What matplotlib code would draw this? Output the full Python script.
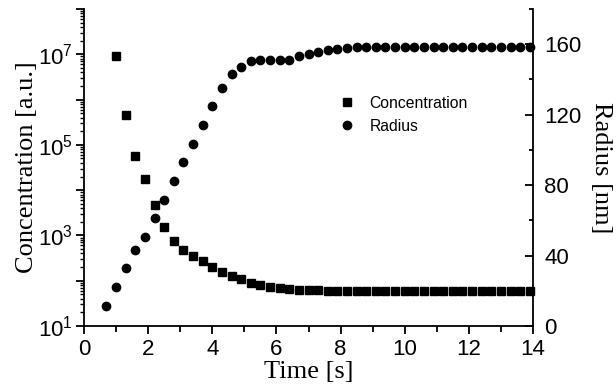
import math
import matplotlib
matplotlib.use("Agg")
import matplotlib.pyplot as plt
from matplotlib.ticker import LogLocator, MultipleLocator, NullFormatter

plt.rcParams['font.family'] = ['Liberation Sans', 'DejaVu Sans']
plt.rcParams['mathtext.fontset'] = 'custom'
plt.rcParams['mathtext.rm'] = 'Liberation Sans'
plt.rcParams['mathtext.default'] = 'regular'

# time points
t_radius = [0.7, 1.0, 1.3, 1.6, 1.9, 2.2, 2.5, 2.8, 3.1, 3.4, 3.7, 4.0, 4.3, 4.6, 4.9,
            5.2, 5.5, 5.8, 6.1, 6.4, 6.7, 7.0, 7.3, 7.6, 7.9, 8.2, 8.5, 8.8, 9.1, 9.4,
            9.7, 10.0, 10.3, 10.6, 10.9, 11.2, 11.5, 11.8, 12.1, 12.4, 12.7, 13.0, 13.3,
            13.6, 13.9]
t_conc = t_radius[1:]

radius = [11.5, 22.1, 32.7, 43.3, 50.5, 61.1, 71.7, 82.3, 92.9, 103.5, 114.2, 124.8,
          135.4, 143.0, 147.1, 150.2, 151.3, 151.3, 151.3, 151.3, 153.6, 154.7, 155.6,
          156.6, 157.5, 157.9, 158.2, 158.2, 158.2, 158.2, 158.2, 158.2, 158.2, 158.2,
          158.2, 158.2, 158.2, 158.2, 158.2, 158.2, 158.2, 158.2, 158.2, 158.2, 158.2]

conc = [9.0e6, 4.6e5, 5.7e4, 1.8e4, 4.6e3, 1.5e3, 740, 480, 350, 270, 205, 152, 127,
        107, 91, 80, 74, 69, 66, 62, 61, 61, 60, 60, 60, 60, 60, 59, 59, 58, 59, 59,
        59, 59, 59, 59, 59, 59, 59, 59, 59, 59, 59, 59]

fig = plt.figure(figsize=(6.16, 3.90), dpi=100)
ax = fig.add_axes([0.1364, 0.1641, 0.7289, 0.8128])
ax2 = ax.twinx()

l1, = ax.plot(t_conc, conc, 's', color='black', markersize=5.2, linestyle='none',
              label='Concentration', clip_on=False)
l2, = ax2.plot(t_radius, radius, 'o', color='black', markersize=6, linestyle='none',
               label='Radius', clip_on=False)

ax.set_yscale('log')
ax.set_xlim(0, 14)
ax.set_ylim(10, 1e8)
ax2.set_ylim(0, 180)

for a in (ax, ax2):
    a.spines['top'].set_visible(False)
    for s in a.spines.values():
        s.set_linewidth(1.3)
ax.spines['right'].set_visible(False)
ax2.spines['left'].set_visible(False)
ax2.spines['bottom'].set_visible(False)

ax.xaxis.set_major_locator(MultipleLocator(2))
ax.xaxis.set_minor_locator(MultipleLocator(1))
ax.yaxis.set_major_locator(LogLocator(base=10, numticks=20))
ax.yaxis.set_minor_locator(LogLocator(base=10, subs=range(2, 10), numticks=20))
ax.yaxis.set_minor_formatter(NullFormatter())


def fmt(v, pos):
    e = int(round(math.log10(v)))
    return r'$10^{%d}$' % e if e % 2 == 1 else ''


ax.yaxis.set_major_formatter(fmt)

ax2.yaxis.set_major_locator(MultipleLocator(40))
ax2.yaxis.set_minor_locator(MultipleLocator(20))

ax.tick_params(axis='x', which='major', direction='out', length=6, width=1.3,
               labelsize=16, pad=3)
ax.tick_params(axis='x', which='minor', direction='out', length=4, width=1.3)
ax.tick_params(axis='y', which='major', direction='out', length=6, width=1.3,
               labelsize=16, pad=2)
ax.tick_params(axis='y', which='minor', direction='out', length=3, width=1)
ax2.tick_params(axis='y', which='major', direction='in', length=6, width=1.3,
                labelsize=16, pad=8)
ax2.tick_params(axis='y', which='minor', direction='in', length=3, width=1.3)

ax.set_xlabel('Time [s]', family='Liberation Serif', fontsize=19, labelpad=1)
ax.set_ylabel('Concentration [a.u.]', family='Liberation Serif', fontsize=19, labelpad=0)
ax2.set_ylabel('Radius [nm]', family='Liberation Serif', fontsize=19, rotation=270,
               labelpad=22)

ax.legend([l1, l2], ['Concentration', 'Radius'], loc='center left',
          bbox_to_anchor=(0.568, 0.666), frameon=False, fontsize=11.3,
          borderpad=0, borderaxespad=0, handlelength=1, handletextpad=0.95,
          labelspacing=0.5)

fig.savefig('out.png', dpi=100)
